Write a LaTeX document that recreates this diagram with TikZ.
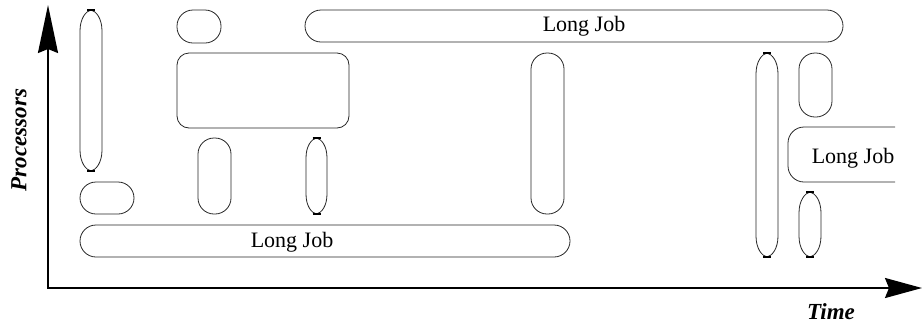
\documentclass[tikz,border=0pt]{standalone}
\usepackage{fontspec}
\setmainfont{Liberation Serif}
\usetikzlibrary{arrows.meta}
\tikzset{
  job/.style={draw=black!85, line width=0.8pt},
  jobtext/.style={font=\fontsize{22}{26}\selectfont, inner sep=0pt},
  axis/.style={line width=2pt},
  axislabel/.style={font=\fontsize{23}{27}\selectfont\bfseries\itshape, inner sep=0pt},
  tick/.style={line width=1.6pt}
}
% stadium-shaped job: #1,#2 top-left corner, #3,#4 bottom-right corner
\newcommand{\stadium}[5]{%
  \draw[job, rounded corners=#5] (#1,#2) rectangle (#3,#4);}
% narrow job with pointed ends and a small bar at each tip
\newcommand{\pointedjob}[4]{%
  \pgfmathsetmacro{\cxm}{(#1+#3)/2}%
  \pgfmathsetmacro{\kk}{(#3-#1)*0.95}%
  \draw[job] (\cxm,#2) .. controls (\cxm-5,#2+1) and (#1,#2+\kk*0.4) .. (#1,#2+\kk)
    -- (#1,#4-\kk) .. controls (#1,#4-\kk*0.4) and (\cxm-5,#4-1) .. (\cxm,#4)
    .. controls (\cxm+5,#4-1) and (#3,#4-\kk*0.4) .. (#3,#4-\kk)
    -- (#3,#2+\kk) .. controls (#3,#2+\kk*0.4) and (\cxm+5,#2+1) .. (\cxm,#2) -- cycle;
  \draw[tick] (\cxm-4,#2) -- (\cxm+4,#2);
  \draw[tick] (\cxm-4,#4) -- (\cxm+4,#4);}
\begin{document}
\begin{tikzpicture}[x=1pt, y=-1pt]
  \useasboundingbox (0,0) rectangle (923,325);

  % axes
  \coordinate (origin) at (48,288);
  \coordinate (ytop) at (48,5);
  \coordinate (xend) at (922,288);
  \draw[axis, -{Stealth[length=48pt, width=20pt, inset=4pt]}] (origin) -- (ytop);
  \draw[axis, -{Stealth[length=37pt, width=20pt, inset=4pt]}] ([xshift=-1pt]origin) -- (xend);
  \node[axislabel, rotate=90] (proc) at (19,140) {Processors};
  \node[axislabel] (time) at (831,312) {Time};

  % jobs with round ends
  \stadium{80}{182}{134}{214}{16}
  \stadium{80}{225}{570}{257}{16}
  \stadium{177}{10}{221}{43}{16}
  \stadium{177}{53}{349}{128}{12}
  \stadium{198}{138}{231}{214}{16}
  \stadium{305}{10}{843}{42}{16}
  \stadium{531}{53}{564}{214}{16}
  \stadium{799}{53}{832}{117}{16}

  % job running past the right edge
  \draw[job, rounded corners=16] (895,127) -- (788,127) -- (788,182) -- (895,182);

  % jobs with pointed ends
  \pointedjob{80}{10}{102}{171}
  \pointedjob{306}{138}{327}{214}
  \pointedjob{756}{53}{778}{257}
  \pointedjob{799}{192}{821}{257}

  % labels of the long jobs
  \node[jobtext] (longA) at (292,242) {Long Job};
  \node[jobtext] (longB) at (584,26) {Long Job};
  \node[jobtext] (longC) at (853,158) {Long Job};
\end{tikzpicture}
\end{document}
